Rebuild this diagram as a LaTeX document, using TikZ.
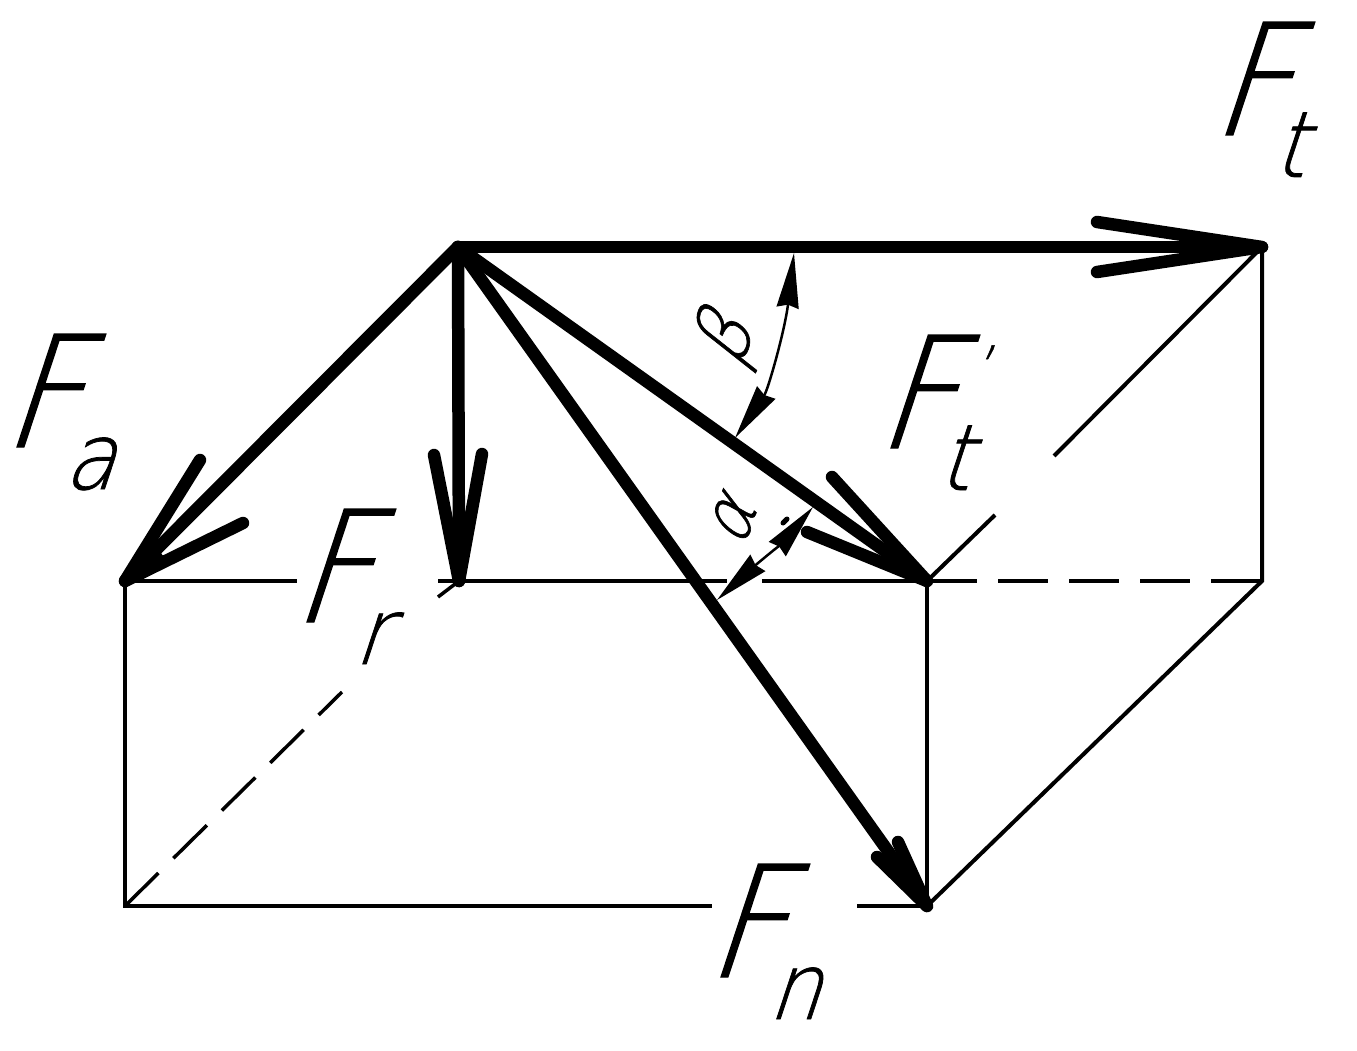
\documentclass[tikz,border=0pt]{standalone}
\usepackage{fontspec}
\setmainfont[FakeSlant=0.33,FakeStretch=0.9,FakeBold=0.8]{DejaVu Sans ExtraLight}
\usetikzlibrary{arrows.meta,positioning,calc}
\newcommand{\Flab}[2][]{F\kern-17pt\raisebox{-42pt}{\fontsize{92}{92}\selectfont\rlap{#2}}#1}
\begin{document}
\begin{tikzpicture}[x=1pt,y=-1pt,every node/.style={outer sep=0pt,inner sep=0pt,anchor=base west}]
\tikzstyle{force}=[line width=12.5pt,line cap=round,line join=round]
\tikzstyle{thin}=[line width=4pt]
\tikzstyle{dimen}=[line width=2.5pt,{Stealth[length=55pt,width=22pt,inset=3pt]}-{Stealth[length=55pt,width=22pt,inset=3pt]}]
\tikzstyle{label}=[font=\fontsize{155}{155}\selectfont]
\useasboundingbox (0,0) rectangle (1357,1051);
% corners of the box
\coordinate (O) at (458,247);
\coordinate (Ft) at (1262,247);
\coordinate (Fa) at (125,581);
\coordinate (Fr) at (459,581);
\coordinate (Ftp) at (927,581);
\coordinate (Fn) at (927,906);
\coordinate (BL) at (125,906);
\coordinate (BR) at (1262,581);
% ends of the thin lines at the gaps
\coordinate (gapFrA) at (297,581);
\coordinate (gapFrB) at (438,581);
\coordinate (gapAlA) at (727,581);
\coordinate (gapAlB) at (762,581);
\coordinate (gapFnA) at (712,906);
\coordinate (gapFnB) at (857,906);
\coordinate (gapDiA) at (342,692);
\coordinate (gapDiB) at (438,597);
\coordinate (gapFtA) at (995,515);
\coordinate (gapFtB) at (1054,456);
% barb ends of the arrow heads
\coordinate (FtL) at (1097,222);
\coordinate (FtR) at (1097,272);
\coordinate (FaL) at (200,460);
\coordinate (FaR) at (243,523);
\coordinate (FrL) at (434,455);
\coordinate (FrR) at (482,454);
\coordinate (FtpL) at (832,477);
\coordinate (FtpR) at (807,532);
\coordinate (FnL) at (877,857);
\coordinate (FnR) at (898,842);
% thin lines
\draw [thin] (Fa) -- (BL) -- (gapFnA);
\draw [thin] (gapFnB) -- (Fn) -- (Ftp);
\draw [thin] (Fa) -- (gapFrA);
\draw [thin] (gapFrB) -- (gapAlA);
\draw [thin] (gapAlB) -- (Ftp);
\draw [thin] (Fn) -- (BR) -- (Ft);
\draw [thin] (Ftp) -- (gapFtA);
\draw [thin] (gapFtB) -- (Ft);
\draw [thin,dash pattern=on 50pt off 21pt] (Ftp) -- (BR);
\draw [line width=3.5pt,dash pattern=on 47pt off 21pt] (BL) -- (gapDiA);
\draw [line width=3.5pt] (gapDiB) -- (Fr);
% forces
\foreach \tip in {Ft,Fa,Fr,Ftp,Fn}
  \draw [force] (O) -- (\tip);
% arrow heads
\foreach \tip/\frac in {Ft/.45,Fa/.35,Fr/.4,Ftp/.3,Fn/.9}{
  \draw [force] (\tip L) -- (\tip) -- (\tip R);
  \fill ($(\tip)!\frac!(\tip L)$) -- (\tip) -- ($(\tip)!\frac!(\tip R)$) -- cycle;
}
% angles
\coordinate (beA) at (794,253);
\coordinate (beB) at (735,438);
\coordinate (alA) at (813,507);
\coordinate (alB) at (717,600);
\draw [dimen] (beA) .. controls (785,330) and (768,390) .. (beB);
\draw [dimen] (alA) .. controls (785,540) and (750,570) .. (alB);
\draw [line width=5pt,line cap=round] (783,523) -- (787,519);
% labels
\node (lFa) [label] at (0,447) {\Flab{a}};
\node (lFt) [label] at (1209,135) {\Flab{t}};
\node (lFr) [label] at (290,622) {\Flab{r}};
\node (lFtp) [label] at (874,448) {\Flab[\kern33pt\raisebox{59pt}{\fontsize{60}{60}\selectfont\char"0027}]{t}};
\node (lFn) [label] at (704,977) {\Flab{n}};
\node (lbe) [font=\fontsize{78}{78}\selectfont,rotate=70,anchor=center] at (727,342) {β};
\node (lal) [font=\fontsize{72}{72}\selectfont,rotate=70,anchor=center] at (732,522) {α};
\end{tikzpicture}
\end{document}
